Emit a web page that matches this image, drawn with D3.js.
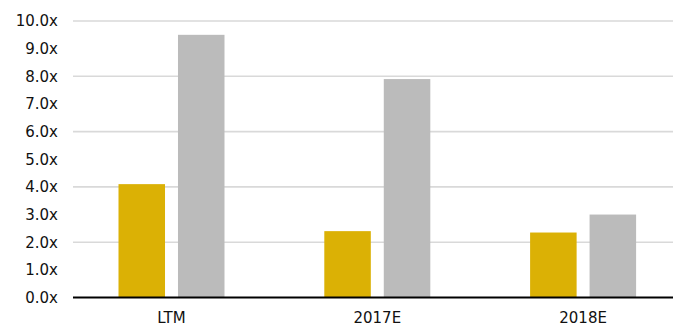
<!DOCTYPE html>
<html><head><meta charset="utf-8">
<script src="https://cdn.jsdelivr.net/npm/d3@7"></script>
<style>body{margin:0;background:#fff}svg{display:block}</style>
</head><body>
<script>
const categories = ["LTM", "2017E", "2018E"];
const seriesA = [4.1, 2.4, 2.35];
const seriesB = [9.5, 7.9, 3.0];
const yTicks = [0, 1, 2, 3, 4, 5, 6, 7, 8, 9, 10];
const gridTicks = [0, 2, 4, 6, 8, 10];
const colors = ["#DBB105", "#BBBBBB"];

const W = 673, H = 326;
const svg = d3.select("body").append("svg").attr("width", W).attr("height", H);
const font = "DejaVu Sans";

const y = d3.scaleLinear().domain([0, 10]).range([297.5, 21]);
const x = d3.scaleBand().domain(categories).range([68.6, 686]);
const inner = d3.scaleBand().domain([0, 1]).range([-53, 53]).paddingInner(0.218);

// grid
svg.append("g").selectAll("line").data(gridTicks.filter(d => d > 0)).join("line")
  .attr("x1", 73).attr("x2", W).attr("y1", d => y(d)).attr("y2", d => y(d))
  .attr("stroke", "#D9D9D9").attr("stroke-width", 1.6);

// bars
const series = [seriesA, seriesB];
series.forEach((vals, si) => {
  svg.append("g").selectAll("rect").data(vals).join("rect")
    .attr("x", (d, i) => x(categories[i]) + x.bandwidth() / 2 + inner(si))
    .attr("width", inner.bandwidth())
    .attr("y", d => y(d))
    .attr("height", d => y(0) - y(d))
    .attr("fill", colors[si]);
});

// axis line
svg.append("line").attr("x1", 73).attr("x2", W).attr("y1", y(0)).attr("y2", y(0))
  .attr("stroke", "#000").attr("stroke-width", 2);

// y labels
svg.append("g").selectAll("text").data(yTicks).join("text")
  .attr("x", 58).attr("y", d => y(d)).attr("dy", "0.36em")
  .attr("text-anchor", "end").attr("font-family", font).attr("font-size", 15)
  .attr("fill", "#111").text(d => d.toFixed(1) + "x");

// x labels
svg.append("g").selectAll("text").data(categories).join("text")
  .attr("x", d => x(d) + x.bandwidth() / 2).attr("y", 323)
  .attr("text-anchor", "middle").attr("font-family", font).attr("font-size", 15)
  .attr("fill", "#111").text(d => d);
</script>
</body></html>
